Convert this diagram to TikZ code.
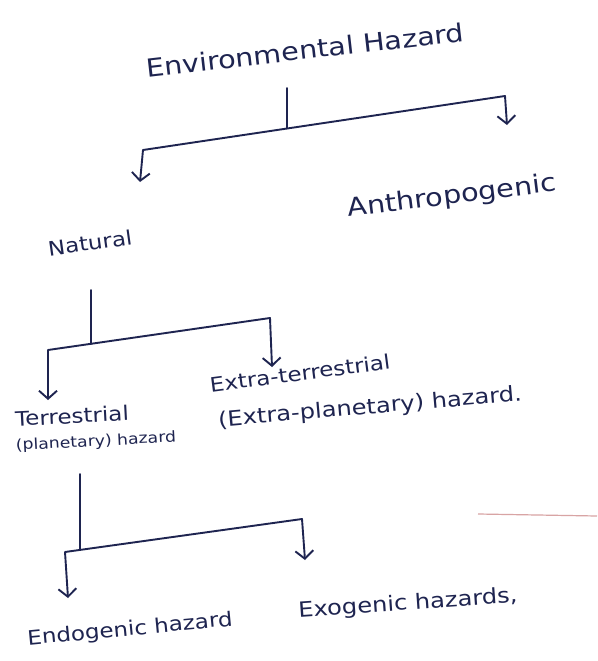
\documentclass[tikz,border=0pt]{standalone}
\usepackage{fontspec}
\setmainfont[FakeStretch=1.15]{DejaVu Sans}
\usetikzlibrary{arrows.meta,calc}
\definecolor{inkblue}{HTML}{1E2450}
\definecolor{margin}{HTML}{D8A4A4}
\begin{document}
\begin{tikzpicture}[x=1pt,y=-1pt,
  ink/.style={draw=inkblue, line width=1.9pt, line cap=round, line join=round},
  fork/.style={ink, {Straight Barb[length=8pt,width=18pt]}-{Straight Barb[length=8pt,width=18pt]}},
  word/.style={text=inkblue, inner sep=0pt},
  fs/.style={font=\fontsize{#1}{#1}\selectfont}]
\useasboundingbox[fill=white] (0,0) rectangle (597,661);

% labels
\node[word, fs=25, rotate=6.5] (env)    at (305,50)  {Environmental Hazard};
\node[word, fs=25, rotate=7]   (anth)   at (452,197) {Anthropogenic};
\node[word, fs=20, rotate=8]   (nat)    at (90,243)  {Natural};
\node[word, fs=20, rotate=3]   (terr)   at (72,416)  {Terrestrial};
\node[word, fs=15, rotate=3]   (planet) at (96,442)  {(planetary) hazard};
\node[word, fs=20, rotate=7.5] (extra)  at (300,373) {Extra-terrestrial};
\node[word, fs=21, rotate=5]   (extrab) at (370,408) {(Extra-planetary) hazard.};
\node[word, fs=20, rotate=5.5] (endo)   at (130,630) {Endogenic hazard};
\node[word, fs=21, rotate=4]   (exo)    at (408,604) {Exogenic hazards,};

% first split: Environmental Hazard -> Natural / Anthropogenic
\coordinate (s1)  at (287,88);
\coordinate (l1)  at (143,150);
\coordinate (r1)  at (505,96);
\coordinate (tl1) at (140,182);
\coordinate (tr1) at (507,125);
\coordinate (j1)  at ($(l1)!0.3978!(r1)$);
\draw[ink] (s1) -- (j1);
\draw[fork] (tl1) -- (l1) -- (r1) -- (tr1);

% second split: Natural -> Terrestrial / Extra-terrestrial
\coordinate (s2)  at (91,290);
\coordinate (l2)  at (48,350);
\coordinate (r2)  at (270,318);
\coordinate (tl2) at (48,400);
\coordinate (tr2) at (272,367);
\coordinate (j2)  at ($(l2)!0.1937!(r2)$);
\draw[ink] (s2) -- (j2);
\draw[fork] (tl2) -- (l2) -- (r2) -- (tr2);

% third split: Terrestrial -> Endogenic / Exogenic
\coordinate (s3)  at (80,474);
\coordinate (l3)  at (65,552);
\coordinate (r3)  at (302,519);
\coordinate (tl3) at (68,598);
\coordinate (tr3) at (305,560);
\coordinate (j3)  at ($(l3)!0.0633!(r3)$);
\draw[ink] (s3) -- (j3);
\draw[fork] (tl3) -- (l3) -- (r3) -- (tr3);

% faint margin stroke on the paper
\coordinate (m1) at (478,514);
\coordinate (m2) at (597,516);
\draw[margin, line width=1.2pt] (m1) -- (m2);
\end{tikzpicture}
\end{document}
